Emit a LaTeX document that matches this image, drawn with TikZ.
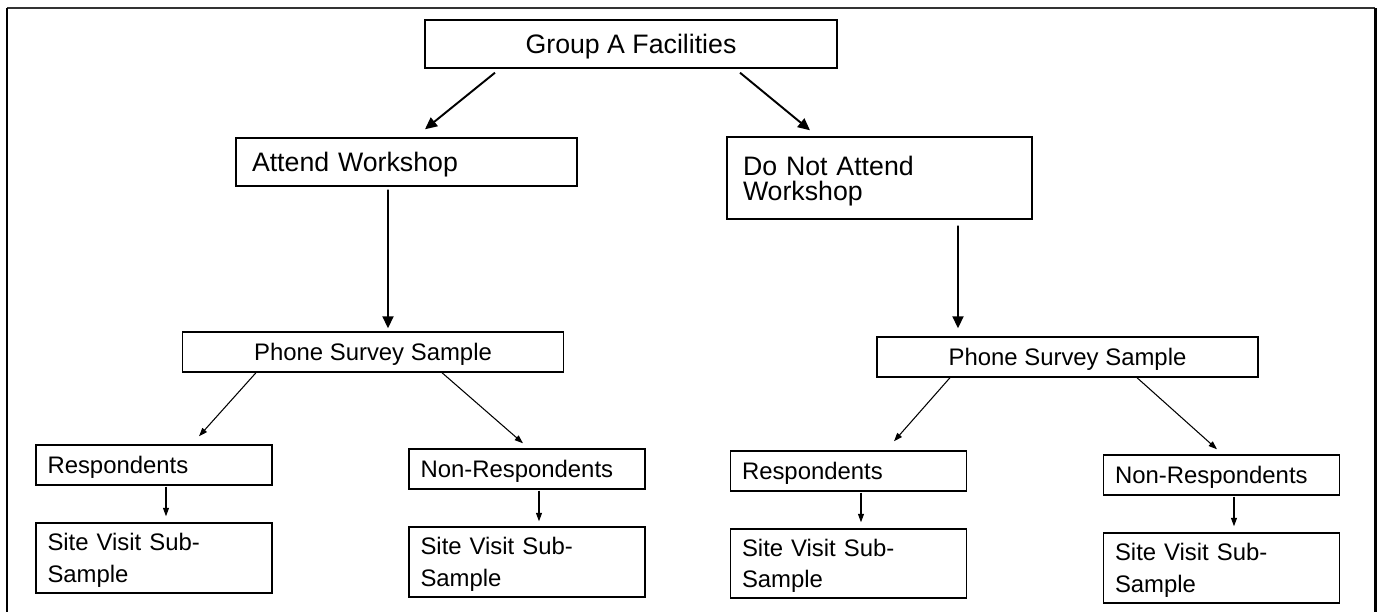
\documentclass[tikz,border=0pt]{standalone}
\usepackage{fontspec}
\setmainfont{Liberation Sans}
\usetikzlibrary{arrows.meta}

\begin{document}
\begin{tikzpicture}[
    bigtext/.style={font=\fontsize{15.2}{14.2}\selectfont},
    smalltext/.style={font=\fontsize{13.6}{18}\selectfont},
    box/.style={draw=black, line width=0.8pt, inner ysep=0pt},
    topbox/.style={box, bigtext, text depth=0pt, minimum width=8.24cm, minimum height=0.96cm},
    leftbox/.style={box, bigtext, align=left, inner xsep=0.32cm, text width=#1},
    phonebox/.style={box, smalltext, text depth=0pt, minimum width=7.62cm, minimum height=0.8cm},
    smallbox/.style={box, smalltext, align=left, inner xsep=0.23cm, text width=4.26cm},
    respbox/.style={smallbox, text depth=0pt, minimum height=0.8cm},
    sitebox/.style={smallbox, text depth=18pt, minimum height=1.40cm},
    bigarrow/.style={line width=1.1pt, -{Triangle[length=0.24cm, width=0.22cm]}},
    smallarrow/.style={line width=0.6pt, -{Triangle[length=0.17cm, width=0.12cm]}}
  ]
  \useasboundingbox (0,0) rectangle (27.64,12.24);

  % outer frame
  \draw[line width=1.2pt, black!80] (0.14,12.08) -- (27.50,12.08);
  \draw[line width=1.7pt] (0.14,0) -- (0.14,12.08);
  \draw[line width=1.7pt] (27.50,0) -- (27.50,12.08);

  % top levels
  \node[topbox] (group) at (12.62,11.36) {Group A Facilities};
  \node[leftbox=6.18cm, text depth=0pt, minimum height=0.96cm] (attend) at (8.13,9.00) {Attend Workshop};
  \node[leftbox=5.46cm, text depth=14.2pt, minimum height=1.64cm] (noattend) at (17.59,8.68) {Do Not Attend\\Workshop};

  \draw[bigarrow] ([xshift=-2.72cm, yshift=-0.08cm]group.south) -- ([xshift=0.37cm, yshift=0.16cm]attend.north);
  \draw[bigarrow] ([xshift=2.18cm, yshift=-0.08cm]group.south) -- ([xshift=-1.39cm, yshift=0.12cm]noattend.north);

  % phone survey samples
  \node[phonebox] (phoneA) at (7.46,5.20) {Phone Survey Sample};
  \node[phonebox] (phoneB) at (21.35,5.10) {Phone Survey Sample};

  \draw[bigarrow] ([xshift=-0.37cm, yshift=-0.06cm]attend.south) -- ([xshift=0.30cm, yshift=0.06cm]phoneA.north);
  \draw[bigarrow] ([xshift=1.57cm, yshift=-0.12cm]noattend.south) -- ([xshift=-2.19cm, yshift=0.16cm]phoneB.north);

  % left branch
  \node[respbox] (respA) at (3.08,2.94) {Respondents};
  \node[sitebox] (siteA) at (3.08,1.08) {Site Visit Sub-\\Sample};
  \node[respbox] (nonA) at (10.54,2.86) {Non-Respondents};
  \node[sitebox] (siteAA) at (10.54,1.00) {Site Visit Sub-\\Sample};

  \draw[smallarrow] ([xshift=-2.34cm]phoneA.south) -- ([xshift=0.90cm, yshift=0.16cm]respA.north);
  \draw[smallarrow] ([xshift=1.38cm]phoneA.south) -- ([xshift=-0.08cm, yshift=0.10cm]nonA.north);
  \draw[smallarrow] ([xshift=0.24cm, yshift=-0.02cm]respA.south) -- ([xshift=0.24cm, yshift=0.12cm]siteA.north);
  \draw[smallarrow] ([xshift=0.24cm, yshift=-0.02cm]nonA.south) -- ([xshift=0.24cm, yshift=0.10cm]siteAA.north);

  % right branch
  \node[respbox] (respB) at (16.97,2.82) {Respondents};
  \node[sitebox, minimum height=1.38cm] (siteB) at (16.97,0.97) {Site Visit Sub-\\Sample};
  \node[respbox] (nonB) at (24.43,2.74) {Non-Respondents};
  \node[sitebox] (siteBB) at (24.43,0.88) {Site Visit Sub-\\Sample};

  \draw[smallarrow] ([xshift=-2.35cm]phoneB.south) -- ([xshift=0.91cm, yshift=0.18cm]respB.north);
  \draw[smallarrow] ([xshift=1.39cm]phoneB.south) -- ([xshift=-0.09cm, yshift=0.10cm]nonB.north);
  \draw[smallarrow] ([xshift=0.25cm, yshift=-0.02cm]respB.south) -- ([xshift=0.25cm, yshift=0.12cm]siteB.north);
  \draw[smallarrow] ([xshift=0.25cm, yshift=-0.02cm]nonB.south) -- ([xshift=0.25cm, yshift=0.12cm]siteBB.north);

\end{tikzpicture}
\end{document}
